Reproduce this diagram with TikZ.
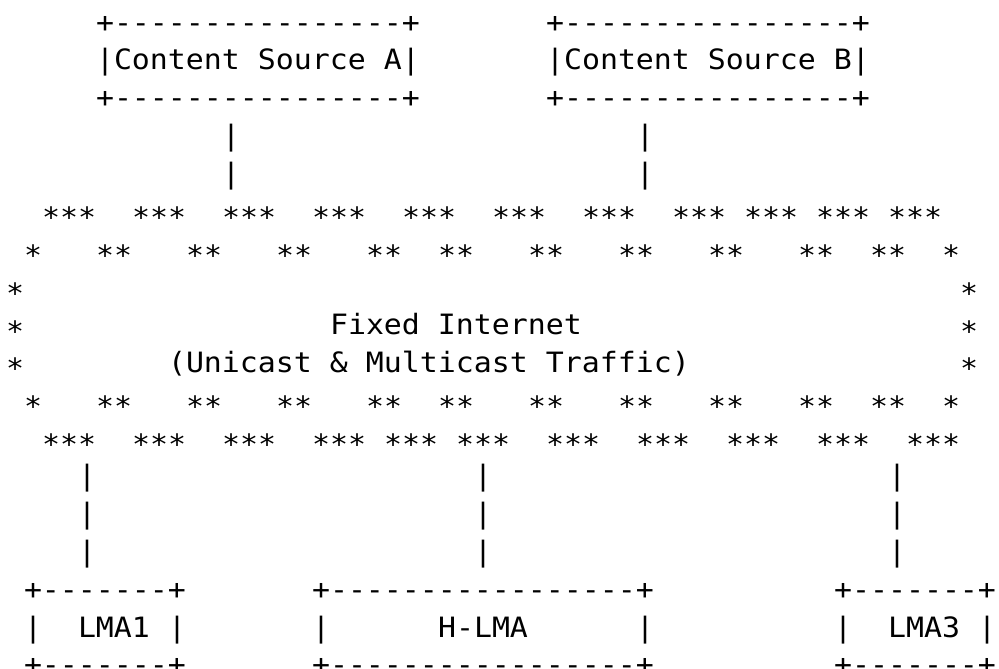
\documentclass[tikz,border=0pt]{standalone}
\usepackage{fontspec}
\setmonofont[FakeStretch=1.0678]{DejaVu Sans Mono}
\newcommand\stargl{\raisebox{-0.23em}{*}}
\newcommand\cell[4]{\node[t] (#1) at ({6+18*(#2)},{32.2+37.8*((#3)-1)}) {#4};}
\begin{document}
\begin{tikzpicture}[x=1pt,y=-1pt,
  t/.style={anchor=base west,inner sep=0pt,outer sep=0pt,text=black,
            font=\ttfamily\fontsize{28}{34}\selectfont}]
\useasboundingbox (0,0) rectangle (999,669);
% content sources
\cell{srcAt}{5}{1}{+----------------+}
\cell{srcA}{5}{2}{|Content Source A|}
\cell{srcAb}{5}{3}{+----------------+}
\cell{srcBt}{30}{1}{+----------------+}
\cell{srcB}{30}{2}{|Content Source B|}
\cell{srcBb}{30}{3}{+----------------+}
% upper links
\foreach \r in {4,5}{
  \cell{pa\r}{12}{\r}{|}
  \cell{pb\r}{35}{\r}{|}
}
% cloud
\foreach \c in {2,3,4,7,8,9,12,13,14,17,18,19,22,23,24,27,28,29,32,33,34,37,38,39,41,42,43,45,46,47,49,50,51}
  {\cell{sa\c}{\c}{6}{\stargl}}
\foreach \c in {1,5,6,10,11,15,16,20,21,24,25,29,30,34,35,39,40,44,45,48,49,52}
  {\cell{sb\c}{\c}{7}{\stargl}
   \cell{sf\c}{\c}{11}{\stargl}}
\foreach \r in {8,9,10}{
  \cell{sl\r}{0}{\r}{\stargl}
  \cell{sr\r}{53}{\r}{\stargl}
}
\foreach \c in {2,3,4,7,8,9,12,13,14,17,18,19,21,22,23,25,26,27,30,31,32,35,36,37,40,41,42,45,46,47,50,51,52}
  {\cell{sg\c}{\c}{12}{\stargl}}
\cell{inet}{18}{9}{Fixed Internet}
\cell{traffic}{9}{10}{(Unicast \& Multicast Traffic)}
% lower links
\foreach \r in {13,14,15}{
  \cell{pc\r}{4}{\r}{|}
  \cell{pd\r}{26}{\r}{|}
  \cell{pe\r}{49}{\r}{|}
}
% LMAs
\cell{lmaAt}{1}{16}{+-------+}
\cell{lmaAl}{1}{17}{|}
\cell{lmaA}{4}{17}{LMA1}
\cell{lmaAr}{9}{17}{|}
\cell{lmaAb}{1}{18}{+-------+}
\cell{hlmat}{17}{16}{+-----------------+}
\cell{hlmal}{17}{17}{|}
\cell{hlma}{24}{17}{H-LMA}
\cell{hlmar}{35}{17}{|}
\cell{hlmab}{17}{18}{+-----------------+}
\cell{lmaCt}{46}{16}{+-------+}
\cell{lmaCl}{46}{17}{|}
\cell{lmaC}{49}{17}{LMA3}
\cell{lmaCr}{54}{17}{|}
\cell{lmaCb}{46}{18}{+-------+}
\end{tikzpicture}
\end{document}
